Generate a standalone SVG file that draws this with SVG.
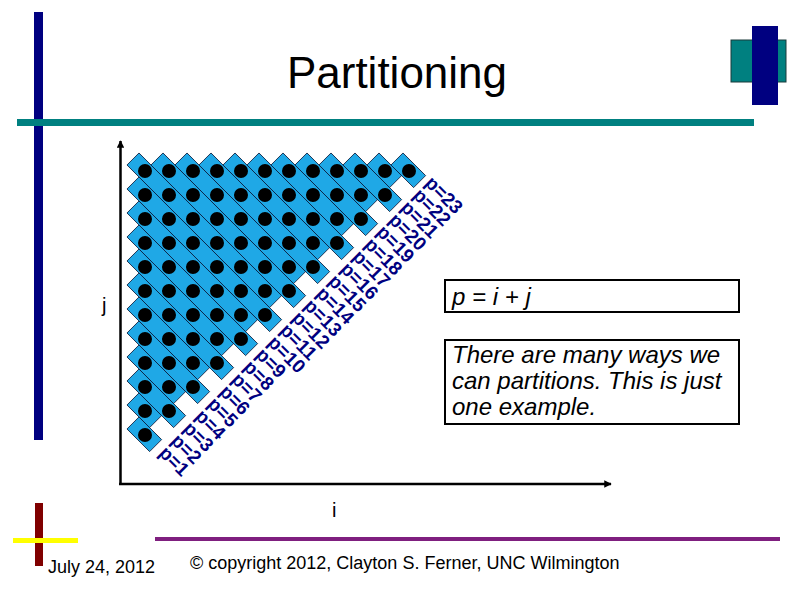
<svg xmlns="http://www.w3.org/2000/svg" width="794" height="595" viewBox="0 0 794 595">
<style>
.band{fill:#1fa8e6;stroke:#0b1a3a;stroke-width:0.8}
.dot{fill:#000}
.lbl{font-family:"Liberation Sans",Arial,sans-serif;font-size:19px;font-weight:bold;fill:#000080}
.box{fill:#fff;stroke:#000;stroke-width:2}
.boxt{font-family:"Liberation Sans",Arial,sans-serif;font-size:24px;font-style:italic;fill:#000}
.axl{font-family:"Liberation Sans",Arial,sans-serif;font-size:20px;fill:#000}
.foot{font-family:"Liberation Sans",Arial,sans-serif;font-size:18px;fill:#000}
</style>
<defs>
<marker id="arr" viewBox="0 0 10 10" refX="9" refY="5" markerWidth="3" markerHeight="3" orient="auto" markerUnits="strokeWidth"><path d="M0,0 L10,5 L0,10 z" fill="#000"/></marker>
</defs>
<rect width="794" height="595" fill="#fff"/>
<!-- slide decorations -->
<rect x="34" y="12" width="9" height="428" fill="#000080"/>
<rect x="17" y="119" width="737" height="7" fill="#008080"/>
<rect x="731" y="40" width="55" height="42" fill="#008080" stroke="#1a3a3a" stroke-width="1"/>
<rect x="752" y="26" width="26" height="79" fill="#000080"/>
<rect x="35" y="503" width="8" height="63" fill="#800000"/>
<rect x="13" y="538" width="65" height="5" fill="#ffff00"/>
<rect x="155" y="537" width="625" height="4" fill="#7f1f7f"/>
<text x="397" y="88" text-anchor="middle" font-family="Liberation Sans, Arial, sans-serif" font-size="44" fill="#000">Partitioning</text>
<text class="foot" x="48" y="573">July 24, 2012</text>
<text class="foot" x="190" y="569">© copyright 2012, Clayton S. Ferner, UNC Wilmington</text>

<g id="connectors">
<line x1="120.5" y1="485" x2="120.5" y2="141" stroke="#000" stroke-width="2.5" marker-end="url(#arr)"/>
<line x1="119" y1="484" x2="611" y2="484" stroke="#000" stroke-width="2.5" marker-end="url(#arr)"/>
</g>
<text class="axl" x="102" y="312">j</text>
<text class="axl" x="332" y="517">i</text>

<g id="p1" transform="translate(145,435) rotate(45)"><rect class="band" x="-17" y="-8.5" width="32" height="17"/><circle class="dot" cx="0" cy="0" r="7"/></g>
<g id="p2" transform="translate(145,411) rotate(45)"><rect class="band" x="-17" y="-8.5" width="32" height="17"/><circle class="dot" cx="0" cy="0" r="7"/></g>
<g id="p3" transform="translate(145,387) rotate(45)"><rect class="band" x="-17" y="-8.5" width="65.94" height="17"/><circle class="dot" cx="0" cy="0" r="7"/><circle class="dot" cx="33.94" cy="0" r="7"/></g>
<g id="p4" transform="translate(145,363) rotate(45)"><rect class="band" x="-17" y="-8.5" width="65.94" height="17"/><circle class="dot" cx="0" cy="0" r="7"/><circle class="dot" cx="33.94" cy="0" r="7"/></g>
<g id="p5" transform="translate(145,339) rotate(45)"><rect class="band" x="-17" y="-8.5" width="99.88" height="17"/><circle class="dot" cx="0" cy="0" r="7"/><circle class="dot" cx="33.94" cy="0" r="7"/><circle class="dot" cx="67.88" cy="0" r="7"/></g>
<g id="p6" transform="translate(145,315) rotate(45)"><rect class="band" x="-17" y="-8.5" width="99.88" height="17"/><circle class="dot" cx="0" cy="0" r="7"/><circle class="dot" cx="33.94" cy="0" r="7"/><circle class="dot" cx="67.88" cy="0" r="7"/></g>
<g id="p7" transform="translate(145,291) rotate(45)"><rect class="band" x="-17" y="-8.5" width="133.82" height="17"/><circle class="dot" cx="0" cy="0" r="7"/><circle class="dot" cx="33.94" cy="0" r="7"/><circle class="dot" cx="67.88" cy="0" r="7"/><circle class="dot" cx="101.82" cy="0" r="7"/></g>
<g id="p8" transform="translate(145,267) rotate(45)"><rect class="band" x="-17" y="-8.5" width="133.82" height="17"/><circle class="dot" cx="0" cy="0" r="7"/><circle class="dot" cx="33.94" cy="0" r="7"/><circle class="dot" cx="67.88" cy="0" r="7"/><circle class="dot" cx="101.82" cy="0" r="7"/></g>
<g id="p9" transform="translate(145,243) rotate(45)"><rect class="band" x="-17" y="-8.5" width="167.76" height="17"/><circle class="dot" cx="0" cy="0" r="7"/><circle class="dot" cx="33.94" cy="0" r="7"/><circle class="dot" cx="67.88" cy="0" r="7"/><circle class="dot" cx="101.82" cy="0" r="7"/><circle class="dot" cx="135.76" cy="0" r="7"/></g>
<g id="p10" transform="translate(145,219) rotate(45)"><rect class="band" x="-17" y="-8.5" width="167.76" height="17"/><circle class="dot" cx="0" cy="0" r="7"/><circle class="dot" cx="33.94" cy="0" r="7"/><circle class="dot" cx="67.88" cy="0" r="7"/><circle class="dot" cx="101.82" cy="0" r="7"/><circle class="dot" cx="135.76" cy="0" r="7"/></g>
<g id="p11" transform="translate(145,195) rotate(45)"><rect class="band" x="-17" y="-8.5" width="201.71" height="17"/><circle class="dot" cx="0" cy="0" r="7"/><circle class="dot" cx="33.94" cy="0" r="7"/><circle class="dot" cx="67.88" cy="0" r="7"/><circle class="dot" cx="101.82" cy="0" r="7"/><circle class="dot" cx="135.76" cy="0" r="7"/><circle class="dot" cx="169.71" cy="0" r="7"/></g>
<g id="p12" transform="translate(145,171) rotate(45)"><rect class="band" x="-17" y="-8.5" width="201.71" height="17"/><circle class="dot" cx="0" cy="0" r="7"/><circle class="dot" cx="33.94" cy="0" r="7"/><circle class="dot" cx="67.88" cy="0" r="7"/><circle class="dot" cx="101.82" cy="0" r="7"/><circle class="dot" cx="135.76" cy="0" r="7"/><circle class="dot" cx="169.71" cy="0" r="7"/></g>
<g id="p13" transform="translate(169,171) rotate(45)"><rect class="band" x="-17" y="-8.5" width="201.71" height="17"/><circle class="dot" cx="0" cy="0" r="7"/><circle class="dot" cx="33.94" cy="0" r="7"/><circle class="dot" cx="67.88" cy="0" r="7"/><circle class="dot" cx="101.82" cy="0" r="7"/><circle class="dot" cx="135.76" cy="0" r="7"/><circle class="dot" cx="169.71" cy="0" r="7"/></g>
<g id="p14" transform="translate(193,171) rotate(45)"><rect class="band" x="-17" y="-8.5" width="167.76" height="17"/><circle class="dot" cx="0" cy="0" r="7"/><circle class="dot" cx="33.94" cy="0" r="7"/><circle class="dot" cx="67.88" cy="0" r="7"/><circle class="dot" cx="101.82" cy="0" r="7"/><circle class="dot" cx="135.76" cy="0" r="7"/></g>
<g id="p15" transform="translate(217,171) rotate(45)"><rect class="band" x="-17" y="-8.5" width="167.76" height="17"/><circle class="dot" cx="0" cy="0" r="7"/><circle class="dot" cx="33.94" cy="0" r="7"/><circle class="dot" cx="67.88" cy="0" r="7"/><circle class="dot" cx="101.82" cy="0" r="7"/><circle class="dot" cx="135.76" cy="0" r="7"/></g>
<g id="p16" transform="translate(241,171) rotate(45)"><rect class="band" x="-17" y="-8.5" width="133.82" height="17"/><circle class="dot" cx="0" cy="0" r="7"/><circle class="dot" cx="33.94" cy="0" r="7"/><circle class="dot" cx="67.88" cy="0" r="7"/><circle class="dot" cx="101.82" cy="0" r="7"/></g>
<g id="p17" transform="translate(265,171) rotate(45)"><rect class="band" x="-17" y="-8.5" width="133.82" height="17"/><circle class="dot" cx="0" cy="0" r="7"/><circle class="dot" cx="33.94" cy="0" r="7"/><circle class="dot" cx="67.88" cy="0" r="7"/><circle class="dot" cx="101.82" cy="0" r="7"/></g>
<g id="p18" transform="translate(289,171) rotate(45)"><rect class="band" x="-17" y="-8.5" width="99.88" height="17"/><circle class="dot" cx="0" cy="0" r="7"/><circle class="dot" cx="33.94" cy="0" r="7"/><circle class="dot" cx="67.88" cy="0" r="7"/></g>
<g id="p19" transform="translate(313,171) rotate(45)"><rect class="band" x="-17" y="-8.5" width="99.88" height="17"/><circle class="dot" cx="0" cy="0" r="7"/><circle class="dot" cx="33.94" cy="0" r="7"/><circle class="dot" cx="67.88" cy="0" r="7"/></g>
<g id="p20" transform="translate(337,171) rotate(45)"><rect class="band" x="-17" y="-8.5" width="65.94" height="17"/><circle class="dot" cx="0" cy="0" r="7"/><circle class="dot" cx="33.94" cy="0" r="7"/></g>
<g id="p21" transform="translate(361,171) rotate(45)"><rect class="band" x="-17" y="-8.5" width="65.94" height="17"/><circle class="dot" cx="0" cy="0" r="7"/><circle class="dot" cx="33.94" cy="0" r="7"/></g>
<g id="p22" transform="translate(385,171) rotate(45)"><rect class="band" x="-17" y="-8.5" width="32" height="17"/><circle class="dot" cx="0" cy="0" r="7"/></g>
<g id="p23" transform="translate(409,171) rotate(45)"><rect class="band" x="-17" y="-8.5" width="32" height="17"/><circle class="dot" cx="0" cy="0" r="7"/></g>

<g id="labels">
<text class="lbl" transform="translate(158,454) rotate(45)">p=1</text>
<text class="lbl" transform="translate(170.1,441.7) rotate(45)">p=2</text>
<text class="lbl" transform="translate(182.2,429.5) rotate(45)">p=3</text>
<text class="lbl" transform="translate(194.3,417.2) rotate(45)">p=4</text>
<text class="lbl" transform="translate(206.4,404.9) rotate(45)">p=5</text>
<text class="lbl" transform="translate(218.5,392.7) rotate(45)">p=6</text>
<text class="lbl" transform="translate(230.5,380.4) rotate(45)">p=7</text>
<text class="lbl" transform="translate(242.6,368.1) rotate(45)">p=8</text>
<text class="lbl" transform="translate(254.7,355.8) rotate(45)">p=9</text>
<text class="lbl" transform="translate(266.8,343.6) rotate(45)">p=10</text>
<text class="lbl" transform="translate(278.9,331.3) rotate(45)">p=11</text>
<text class="lbl" transform="translate(291,319) rotate(45)">p=12</text>
<text class="lbl" transform="translate(303.1,306.8) rotate(45)">p=13</text>
<text class="lbl" transform="translate(315.2,294.5) rotate(45)">p=14</text>
<text class="lbl" transform="translate(327.3,282.2) rotate(45)">p=15</text>
<text class="lbl" transform="translate(339.4,270) rotate(45)">p=16</text>
<text class="lbl" transform="translate(351.4,257.7) rotate(45)">p=17</text>
<text class="lbl" transform="translate(363.5,245.4) rotate(45)">p=18</text>
<text class="lbl" transform="translate(375.6,233.1) rotate(45)">p=19</text>
<text class="lbl" transform="translate(387.7,220.9) rotate(45)">p=20</text>
<text class="lbl" transform="translate(399.8,208.6) rotate(45)">p=21</text>
<text class="lbl" transform="translate(411.9,196.3) rotate(45)">p=22</text>
<text class="lbl" transform="translate(424,184.1) rotate(45)">p=23</text>
</g>

<g id="formula">
<rect class="box" x="445" y="280" width="294" height="32"/>
<text class="boxt" x="452" y="305">p = i + j</text>
</g>
<g id="note">
<rect class="box" x="445" y="340" width="294" height="84"/>
<text class="boxt" x="452" y="363">There are many ways we</text>
<text class="boxt" x="452" y="389">can partitions. This is just</text>
<text class="boxt" x="452" y="415">one example.</text>
</g>
</svg>
